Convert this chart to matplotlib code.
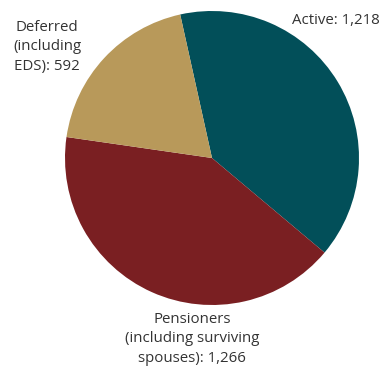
import matplotlib
matplotlib.use("Agg")
import matplotlib.pyplot as plt

categories = ["Active", "Pensioners", "Deferred"]
values = [1218, 1266, 592]
labels = ["Active: 1,218", "Pensioners\n(including surviving\nspouses): 1,266", "Deferred\n(including\nEDS): 592"]
colors = ["#024F59", "#7A1F22", "#B8995A"]

W, H = 382, 369
fig = plt.figure(figsize=(W / 100, H / 100), dpi=100)
ax = fig.add_axes([0, 0, 1, 1])
ax.set_xlim(0, W)
ax.set_ylim(0, H)
ax.set_aspect("equal")
ax.axis("off")

cx, cy, r = 212, H - 158, 147
ax.pie(values, colors=colors, startangle=102.5, counterclock=False,
       center=(cx, cy), radius=r, wedgeprops=dict(linewidth=0))
ax.set_xlim(0, W)
ax.set_ylim(0, H)

font = dict(family=["Open Sans", "DejaVu Sans"], fontsize=10.8, color="#333333", linespacing=1.45)
ax.text(336, H - 20, labels[0], ha="center", va="center", **font)
ax.text(192, H - 339, labels[1], ha="center", va="center", multialignment="center", **font)
ax.text(47, H - 47, labels[2], ha="center", va="center", multialignment="center", **font)

fig.savefig("out.png", dpi=100)
